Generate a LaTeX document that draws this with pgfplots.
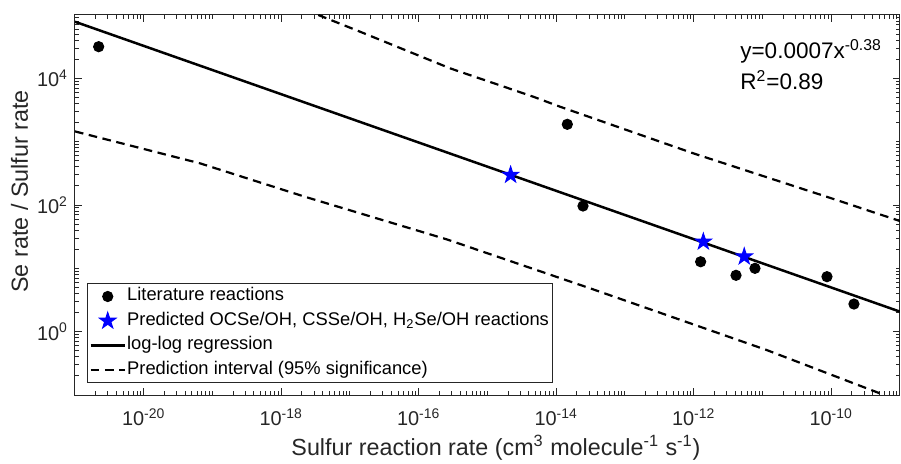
\documentclass[border=0pt]{standalone}
\usepackage{fontspec}
\setmainfont{Liberation Sans}
\usepackage{pgfplots}
\pgfplotsset{compat=1.18}
\definecolor{axgray}{RGB}{38,38,38}

% filled five-pointed star, as MATLAB's pentagram
\pgfdeclareplotmark{pentagram}{%
  \pgfpathmoveto{\pgfpointpolar{90}{\pgfplotmarksize}}%
  \pgfpathlineto{\pgfpointpolar{126}{0.382\pgfplotmarksize}}%
  \pgfpathlineto{\pgfpointpolar{162}{\pgfplotmarksize}}%
  \pgfpathlineto{\pgfpointpolar{198}{0.382\pgfplotmarksize}}%
  \pgfpathlineto{\pgfpointpolar{234}{\pgfplotmarksize}}%
  \pgfpathlineto{\pgfpointpolar{270}{0.382\pgfplotmarksize}}%
  \pgfpathlineto{\pgfpointpolar{306}{\pgfplotmarksize}}%
  \pgfpathlineto{\pgfpointpolar{342}{0.382\pgfplotmarksize}}%
  \pgfpathlineto{\pgfpointpolar{18}{\pgfplotmarksize}}%
  \pgfpathlineto{\pgfpointpolar{54}{0.382\pgfplotmarksize}}%
  \pgfpathclose
  \pgfusepathqfillstroke}

\pgfplotsset{
  marklegend/.style={legend image code/.code={\draw[##1] plot coordinates {(8.5bp,0bp)};}},
  linelegend/.style={legend image code/.code={\draw[##1] (0bp,0bp) -- (17bp,0bp);}},
}

% minor ticks 1..9 x 10^k on both log axes
\def\xminor{1e-9}
\foreach \e in {-21,...,-10}{\foreach \m in {1,...,9}{\xdef\xminor{\xminor,\m e\e}}}
\def\yminor{1e5}
\foreach \e in {-1,...,4}{\foreach \m in {1,...,9}{\xdef\yminor{\yminor,\m e\e}}}

\begin{document}
\begin{tikzpicture}
\begin{axis}[name=ax,
  xmode=log, ymode=log,
  scale only axis, width=412.5bp, height=190bp,
  xmin=1e-21, xmax=1e-9, ymin=0.1, ymax=1e5,
  axis line style={axgray, line width=0.5bp},
  every tick/.style={axgray, line width=0.5bp},
  major tick length=3.3bp, minor tick length=1.8bp,
  tick align=inside,
  xtick={1e-20,1e-18,1e-16,1e-14,1e-12,1e-10},
  xticklabels={10\textsuperscript{-20},10\textsuperscript{-18},10\textsuperscript{-16},
    10\textsuperscript{-14},10\textsuperscript{-12},10\textsuperscript{-10}},
  ytick={1,100,1e4},
  yticklabels={10\textsuperscript{0},10\textsuperscript{2},10\textsuperscript{4}},
  minor xtick/.expanded=\xminor,
  minor ytick/.expanded=\yminor,
  tick label style={font=\fontsize{10}{12}\selectfont, text=axgray},
  xticklabel style={yshift=-3.2bp},
  xlabel={Sulfur reaction rate (cm\textsuperscript{3} molecule\textsuperscript{-1} s\textsuperscript{-1})},
  ylabel={Se rate / Sulfur rate},
  label style={font=\fontsize{11.7}{14}\selectfont, text=axgray},
  xlabel style={at={(0.5103,-0.159)}, anchor=base},
  ylabel style={at={(-0.057,0.5355)}, anchor=base},
  legend cell align=left,
  legend style={at={(0,0)}, anchor=south west, xshift=6bp, yshift=6bp,
    draw=axgray, line width=0.5bp, inner sep=1bp, row sep=1.4bp,
    font=\fontsize{9.2}{11}\selectfont,
    nodes={inner sep=0.6bp, text height=7bp, text depth=2.6bp}},
]
% regression and prediction interval
\addplot[black, line width=1.25bp, forget plot] coordinates {
  (1e-21,7.83e4) (1e-9,2.07)};
\addplot[black, line width=1.1bp, dash pattern=on 4.3bp off 2.8bp, forget plot] coordinates {
  (3.46e-18,1e5) (1.40e-17,5.45e4) (2.85e-16,1.44e4) (4.63e-15,5.13e3)
  (1.135e-14,3565) (9.84e-13,655) (8.59e-11,135) (1e-9,55.8)};
\addplot[black, line width=1.1bp, dash pattern=on 4.3bp off 2.8bp, forget plot] coordinates {
  (1e-21,1452) (6.58e-20,455) (2.21e-18,135) (2.55e-16,28.7)
  (3.66e-14,4.55) (1.15e-11,0.513) (5.12e-10,0.106) (5.94e-10,0.1)};

\addplot[only marks, mark=*, mark size=2.55bp, black, line width=0.5bp, marklegend] coordinates {
  (2.21e-21,3.16e4) (1.45e-14,1880) (2.45e-14,96.4) (1.26e-12,12.7)
  (4.12e-12,7.76) (7.78e-12,10.0) (8.67e-11,7.38) (2.14e-10,2.73)};
\addlegendentry{Literature reactions}
\addplot[only marks, mark=pentagram, mark size=4.3bp, draw=blue, fill=blue, line width=0.5bp,
  marklegend] coordinates {
  (2.17e-15,298) (1.38e-12,26.3) (5.43e-12,15.3)};
\addlegendentry{Predicted OCSe/OH, CSSe/OH, H\textsubscript{2}Se/OH reactions}
\addlegendimage{black, line width=1.25bp, linelegend}
\addlegendentry{log-log regression}
\addlegendimage{black, line width=1.1bp, dash pattern=on 4.3bp off 2.8bp, linelegend}
\addlegendentry{Prediction interval (95\% significance)}

\node[anchor=base west, inner sep=0, font=\fontsize{11.3}{13}\selectfont]
  at (rel axis cs:0.806,0.886) {y=0.0007x\textsuperscript{-0.38}};
\node[anchor=base west, inner sep=0, font=\fontsize{11.3}{13}\selectfont]
  at (rel axis cs:0.806,0.8045) {R\textsuperscript{2}=0.89};
\end{axis}
\pgfresetboundingbox
\path[use as bounding box] ([shift={(-37.5bp,-34.5bp)}]ax.south west)
  rectangle ([shift={(0.5bp,7.5bp)}]ax.north east);
\end{tikzpicture}
\end{document}
